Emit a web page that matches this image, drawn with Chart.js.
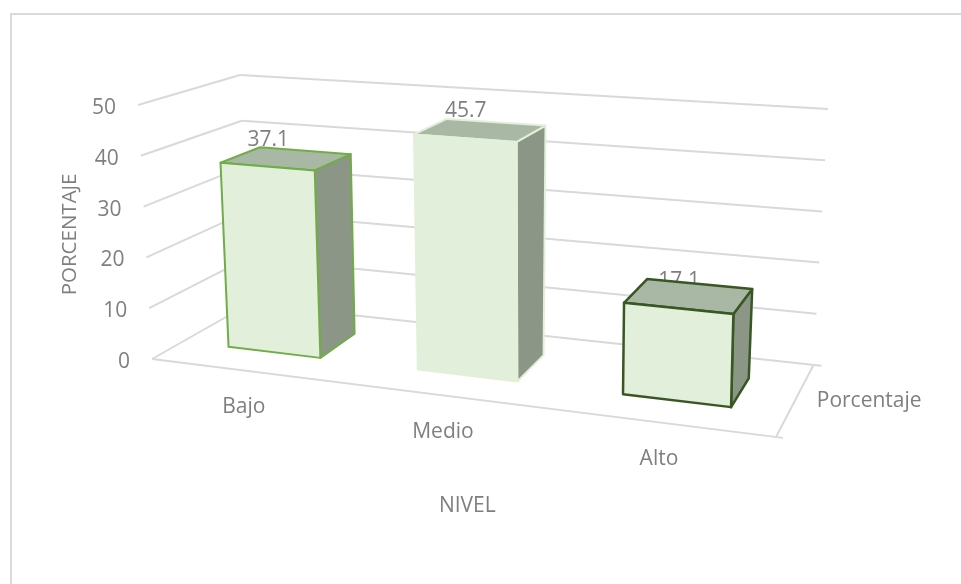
<!DOCTYPE html>
<html>
<head>
<meta charset="utf-8">
<script src="https://cdn.jsdelivr.net/npm/chart.js@4"></script>
<style>
body { margin: 0; background: #fff; }
#frame { position: absolute; left: 10px; top: 13px; right: 0; bottom: 0; border-left: 2px solid #d9d9d9; border-top: 2px solid #d9d9d9; }
#wrap { position: absolute; left: 0; top: 0; width: 961px; height: 584px; }
</style>
</head>
<body>
<div id="frame"></div>
<div id="wrap"><canvas id="myChart" width="961" height="584"></canvas></div>
<script>
const categories = ['Bajo', 'Medio', 'Alto'];
const seriesName = 'Porcentaje';
const values = [37.1, 45.7, 17.1];
const barColors = ['#70ad47', '#e2f0d9', '#385723'];
const axisMin = 0;
const axisMax = 50;
const axisStep = 10;

const textColor = '#7f7f7f';
const gridColor = '#d9d9d9';
const fontFamily = '"Open Sans"';

// The "room" of the 3D view: where the plot's corners land on screen.
const room = {
    frontTL: [138, 105], frontTR: [782, 153], frontBL: [152, 359], frontBR: [776, 437],
    backTL: [240, 75], backTR: [828, 109], backBL: [249, 304], backBR: [813.5, 365]
};
const barDepth = [0.32, 0.73];
const perspective = 1.13;
let area;

function mix(a, b, t) {
    return [a[0] + (b[0] - a[0]) * t, a[1] + (b[1] - a[1]) * t];
}

// Turn a pixel of the flat chart area (and a depth 0..1) into a pixel of the 3D view
function project(px, py, depth) {
    const raw = (px - area.left) / (area.right - area.left);
    const u = raw / (raw + perspective * (1 - raw));
    const v = (area.bottom - py) / (area.bottom - area.top);
    const front = mix(mix(room.frontBL, room.frontBR, u), mix(room.frontTL, room.frontTR, u), v);
    const back = mix(mix(room.backBL, room.backBR, u), mix(room.backTL, room.backTR, u), v);
    return mix(front, back, depth);
}

function polygon(ctx, points, fill, stroke, lineWidth) {
    ctx.beginPath();
    points.forEach((p, i) => i ? ctx.lineTo(p[0], p[1]) : ctx.moveTo(p[0], p[1]));
    ctx.closePath();
    ctx.fillStyle = fill;
    ctx.fill();
    ctx.strokeStyle = stroke;
    ctx.lineWidth = lineWidth;
    ctx.lineJoin = 'round';
    ctx.stroke();
}

function line(ctx, a, b, stub) {
    const len = Math.hypot(b[0] - a[0], b[1] - a[1]);
    const k = 1 + (stub || 0) / len;
    ctx.beginPath();
    ctx.moveTo(a[0], a[1]);
    ctx.lineTo(a[0] + (b[0] - a[0]) * k, a[1] + (b[1] - a[1]) * k);
    ctx.stroke();
}

function label(ctx, text, x, y, align) {
    ctx.textAlign = align;
    ctx.textBaseline = 'middle';
    ctx.fillText(text, x, y);
}

// Bars are drawn as boxes, still using the position Chart.js worked out for them
Chart.BarElement.prototype.draw = function (ctx) {
    const left = this.x - this.width / 2;
    const right = this.x + this.width / 2;
    const near = barDepth[0];
    const far = barDepth[1];
    const o = this.options;
    ctx.save();
    polygon(ctx, [project(right, this.y, near), project(right, this.y, far), project(right, this.base, far), project(right, this.base, near)], '#8b9687', o.borderColor, o.borderWidth);
    polygon(ctx, [project(left, this.y, near), project(left, this.y, far), project(right, this.y, far), project(right, this.y, near)], '#a9b8a5', o.borderColor, o.borderWidth);
    polygon(ctx, [project(left, this.y, near), project(right, this.y, near), project(right, this.base, near), project(left, this.base, near)], o.backgroundColor, o.borderColor, o.borderWidth);
    ctx.restore();
};

const room3d = {
    id: 'room3d',
    beforeDatasetsDraw(chart) {
        const ctx = chart.ctx;
        const { x, y } = chart.scales;
        area = chart.chartArea;
        ctx.save();
        ctx.strokeStyle = gridColor;
        ctx.lineWidth = 2;
        ctx.font = '21px ' + fontFamily;
        ctx.fillStyle = textColor;

        // gridlines on the two walls, plus the value labels
        y.ticks.forEach(tick => {
            const py = y.getPixelForValue(tick.value);
            const a = project(area.left, py, 0);
            const b = project(area.left, py, 1);
            const c = project(area.right, py, 1);
            line(ctx, a, b);
            line(ctx, b, c, tick.value === axisMin ? 8 : 0);
            label(ctx, String(tick.value), a[0] - 22, a[1] + 3, 'right');
        });

        // floor edges
        const floor = y.getPixelForValue(axisMin);
        const fl = project(area.left, floor, 0);
        const fr = project(area.right, floor, 0);
        const br = project(area.right, floor, 1);
        line(ctx, fl, fr, 7);
        line(ctx, fr, br);

        // category and series labels
        categories.forEach((name, i) => {
            const p = project(x.getPixelForValue(i), floor, 0);
            label(ctx, name, p[0] - 2, p[1] + 36, 'center');
        });
        const side = project(area.right, floor, 0.5);
        label(ctx, seriesName, side[0] + 22, side[1], 'left');

        // value labels go under the bars, the top of a box can cover them
        chart.getDatasetMeta(0).data.forEach((bar, i) => {
            const p = project(bar.x, bar.y, barDepth[0]);
            label(ctx, values[i].toFixed(1), p[0] + 1, p[1] - 27, 'center');
        });
        ctx.restore();
    }
};

document.addEventListener('DOMContentLoaded', function () {
    new Chart(document.getElementById('myChart').getContext('2d'), {
        type: 'bar',
        data: {
            labels: categories,
            datasets: [{
                label: seriesName,
                data: values,
                backgroundColor: '#e2efda',
                borderColor: barColors,
                borderWidth: [2, 2, 2.5],
                barPercentage: 0.495,
                categoryPercentage: 1,
                clip: false
            }]
        },
        options: {
            responsive: false,
            animation: false,
            layout: { padding: { top: 107, left: 58, right: 137, bottom: 65 } },
            plugins: { legend: { display: false }, tooltip: { enabled: false } },
            scales: {
                x: {
                    grid: { display: false },
                    border: { display: false },
                    ticks: { display: false },
                    title: { display: true, text: 'NIVEL', color: textColor, font: { family: 'Open Sans', size: 21 }, padding: { top: 124, bottom: 0 } }
                },
                y: {
                    min: axisMin,
                    max: axisMax,
                    grid: { display: false },
                    border: { display: false },
                    ticks: { display: false, stepSize: axisStep },
                    title: { display: true, text: 'PORCENTAJE', color: textColor, font: { family: 'Open Sans', size: 20.5 }, padding: { top: 0, bottom: 20 } }
                }
            }
        },
        plugins: [room3d]
    });
});
</script>
</body>
</html>
